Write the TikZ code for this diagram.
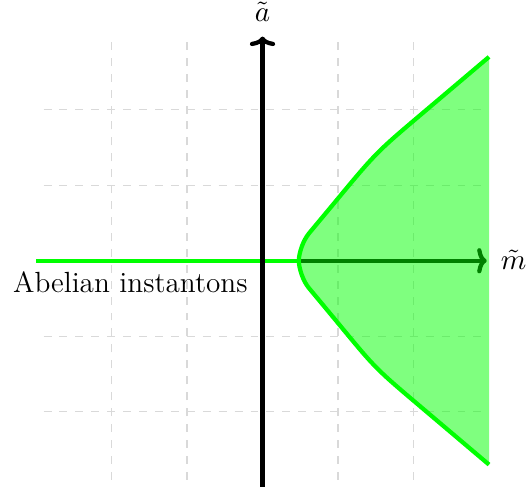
\documentclass[tikz,border=0pt]{standalone}
\usetikzlibrary{arrows.meta}
\begin{document}
\begin{tikzpicture}[
  gridline/.style={gray!30, dashed, line width=0.4pt},
  axisline/.style={ultra thick, black, -{To[length=3.6pt,width=9.5pt]}},
  regionline/.style={ultra thick, green},
  regionfill/.style={green, fill opacity=0.5},
  lbl/.style={inner sep=0pt, font=\fontsize{11}{13.5}\selectfont}
]
\useasboundingbox (-3.477,-2.996) rectangle (3.490,3.454);
\draw[gridline] (-2.9,-2.9) grid[step=1] (2.9,2.9);
\coordinate (xl) at (-3,0);
\coordinate (xr) at (2.97,0);
\coordinate (yb) at (0,-3.05);
\coordinate (yt) at (0,2.97);
\coordinate (c0) at (0.48,0);
\draw[axisline] (xl) -- (xr);
\draw[regionline] (xl) -- (c0);
\draw[axisline] (yb) -- (yt);
\fill[regionfill] (3,2.7) -- (2.1,1.938) .. controls (1.5,1.43) .. (0.9,0.704) [rounded corners=6pt] -- (0.48,0.2) -- (0.48,-0.2) -- (0.9,-0.704) [sharp corners] .. controls (1.5,-1.43) .. (2.1,-1.938) -- (3,-2.7) -- cycle;
\draw[regionline] (3,2.7) -- (2.1,1.938) .. controls (1.5,1.43) .. (0.9,0.704) [rounded corners=6pt] -- (0.48,0.2) -- (0.48,-0.2) -- (0.9,-0.704) [sharp corners] .. controls (1.5,-1.43) .. (2.1,-1.938) -- (3,-2.7);
\node[lbl, anchor=base] (la) at (0,3.167) {$\tilde a$};
\node[lbl, anchor=base west] (lm) at (3.15,-0.11) {$\tilde m$};
\node[lbl, anchor=base east] (lab) at (-0.19,-0.426) {Abelian instantons};
\end{tikzpicture}
\end{document}
